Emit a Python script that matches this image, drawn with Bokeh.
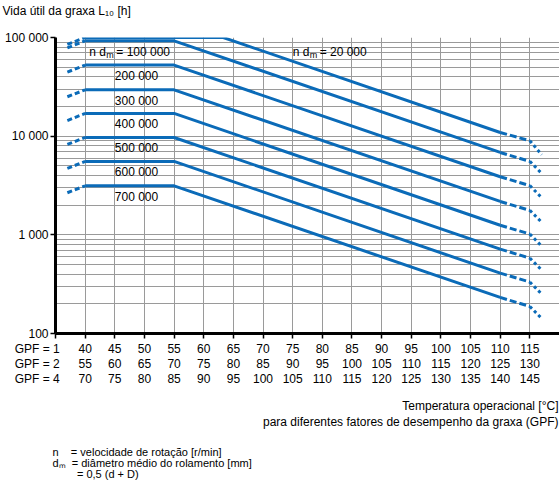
from bokeh.plotting import figure
from bokeh.models import FixedTicker, LinearAxis, Label, ColumnDataSource, Range1d, Title
from bokeh.embed import file_html
from bokeh.resources import INLINE

# ---------------- data ----------------
nd_labels = ["20 000", "100 000", "200 000", "300 000", "400 000", "500 000", "600 000", "700 000"]
knee_temp = [63.3, 55, 55, 55, 55, 55, 55, 55]          # end of the flat part [°C, GPF=1]
life_start = [85000, 78500, 44600, 25100, 14400, 8240, 4710, 2670]   # at 37 °C
life_flat = [100000, 92600, 52500, 29500, 17000, 9700, 5550, 3140]   # 40 °C .. knee
life_110 = [10900, 6840, 3880, 2180, 1250, 716, 409, 232]
life_115 = [8980, 5550, 3150, 1770, 1020, 581, 332, 188]
life_117 = [6490, 4190, 2380, 1340, 767, 439, 251, 142]
t_start, t_flat, t_solid_end, t_dash_end, t_dot_end = 37, 40, 110, 115, 117
label_temp = [75, 40.7, 45, 45, 45, 45, 45, 45]

gpf_rows = ["GPF = 1", "GPF = 2", "GPF = 4"]
gpf1 = [40, 45, 50, 55, 60, 65, 70, 75, 80, 85, 90, 95, 100, 105, 110, 115]
gpf2 = ["55", "60", "65", "70", "75", "80", "85", "90", "95", "100", "105", "110", "115", "120", "125", "130"]
gpf4 = ["70", "75", "80", "85", "90", "95", "100", "105", "110", "115", "120", "125", "130", "135", "140", "145"]
y_ticks = [100, 1000, 10000, 100000]
y_tick_labels = ["100", "1 000", "10 000", "100 000"]
y_minor = [m * d for d in (100, 1000, 10000) for m in range(2, 10)]

title_text = "Vida útil da graxa L₁₀ [h]"
x_title_1 = "Temperatura operacional [°C]"
x_title_2 = "para diferentes fatores de desempenho da graxa (GPF)"
NB = "\u00a0"
footnote_lines = ["n" + NB * 4 + "= velocidade de rotação [r/min]",
                  "dₘ" + NB * 2 + "= diâmetro médio do rolamento [mm]",
                  NB * 8 + "= 0,5 (d + D)"]

# ---------------- style ----------------
FONT = "Liberation Sans"
BLUE = "#0b6bb8"
GRID = "#9a9a9a"
W, H = 559, 483
FL, FT, FB = 55, 37, 333  # frame left / top / bottom (canvas px)
PAD = NB * 11             # pushes the row title left of the first tick

p = figure(width=W, height=H, x_range=Range1d(35, 120), y_range=Range1d(100, 100000),
           y_axis_type="log", output_backend="svg", toolbar_location=None,
           min_border_left=FL, min_border_top=FT, min_border_right=0,
           min_border_bottom=H - FB)
p.outline_line_color = None
p.background_fill_color = "white"
p.border_fill_color = "white"

# y axis
ya = p.yaxis[0]
ya.ticker = FixedTicker(ticks=y_ticks, minor_ticks=y_minor)
ya.major_label_overrides = dict(zip(y_ticks, y_tick_labels))
ya.axis_line_width = 3
ya.axis_line_color = "black"
ya.major_tick_out = 5
ya.major_tick_in = 0
ya.major_tick_line_width = 1.5
ya.minor_tick_line_color = None
ya.major_label_standoff = 2
ya.major_label_text_font = FONT
ya.major_label_text_font_size = "12px"
ya.major_label_text_color = "black"

# x axes (three rows of temperatures, one per GPF)
x_ticks = [35] + gpf1
row_labels = [[str(t) for t in gpf1], gpf2, gpf4]
xa = p.xaxis[0]
xa.ticker = FixedTicker(ticks=x_ticks, minor_ticks=[])
xa.major_label_overrides = dict(zip(x_ticks, [gpf_rows[0] + PAD] + row_labels[0]))
xa.axis_line_width = 3
xa.axis_line_color = "black"
xa.major_tick_out = 5
xa.major_tick_in = 0
xa.major_tick_line_width = 1.5
xa.major_label_standoff = 3
xa.major_label_text_font = FONT
xa.major_label_text_font_size = "12px"
xa.major_label_text_color = "black"
for k in (1, 2):
    ax = LinearAxis(ticker=FixedTicker(ticks=x_ticks, minor_ticks=[]),
                    major_label_overrides=dict(zip(x_ticks, [gpf_rows[k] + PAD] + row_labels[k])),
                    axis_line_color=None, major_tick_line_color=None,
                    major_tick_out=0, major_tick_in=0, minor_tick_out=0, minor_tick_in=0,
                    major_label_standoff=-2, major_label_text_font=FONT,
                    major_label_text_font_size="12px", major_label_text_color="black")
    p.add_layout(ax, "below")

p.xgrid.grid_line_color = GRID
p.ygrid.grid_line_color = GRID
p.ygrid.minor_grid_line_color = GRID


def title(text, where, align, offset, standoff, size="12px", lh=1.2):
    p.add_layout(Title(text=text, align=align, offset=offset, standoff=standoff,
                       text_font=FONT, text_font_size=size, text_font_style="normal",
                       text_color="black", text_line_height=lh), where)


# texts outside the frame
title(title_text + "\n", "above", "left", -53, 0, lh=1.4)
title(x_title_1, "below", "right", 1, 16)
title(x_title_2, "below", "right", 1, -16)
title("\n\n" + "\n".join(footnote_lines), "below", "left", -3, 0, size="11px", lh=0.95)

# ---------------- curves ----------------
n = len(nd_labels)
solid = ColumnDataSource(dict(
    xs=[[t_flat, knee_temp[i], t_solid_end] for i in range(n)],
    ys=[[life_flat[i], life_flat[i], life_110[i]] for i in range(n)]))
left = ColumnDataSource(dict(
    xs=[[t_start, t_flat] for i in range(n)],
    ys=[[life_start[i], life_flat[i]] for i in range(n)]))
dash = ColumnDataSource(dict(
    xs=[[t_solid_end, t_dash_end] for i in range(n)],
    ys=[[life_110[i], life_115[i]] for i in range(n)]))
dot = ColumnDataSource(dict(
    xs=[[t_dash_end, t_dot_end] for i in range(n)],
    ys=[[life_115[i], life_117[i]] for i in range(n)]))

p.multi_line("xs", "ys", source=solid, line_color=BLUE, line_width=3)
p.multi_line("xs", "ys", source=left, line_color=BLUE, line_width=3, line_dash="5 3")
p.multi_line("xs", "ys", source=dash, line_color=BLUE, line_width=3, line_dash="7 3")
p.multi_line("xs", "ys", source=dot, line_color=BLUE, line_width=3, line_dash="3 3")


def txt(text, x, y, size="12px", xo=0, yo=0):
    p.add_layout(Label(x=x, y=y, text=text, text_font=FONT, text_font_size=size,
                       text_align="left", text_baseline="middle", text_color="black",
                       x_offset=xo, y_offset=yo))


# curve labels (below each curve's flat part)
for i in range(n):
    yo = -14 if i == 0 else -11
    if i < 2:
        txt("n d", label_temp[i], life_flat[i], yo=yo)
        txt("m", label_temp[i], life_flat[i], size="9px", xo=17, yo=yo - 3)
        txt("= " + nd_labels[i], label_temp[i], life_flat[i], xo=27, yo=yo)
    else:
        txt(nd_labels[i], label_temp[i], life_flat[i], yo=yo)

open("out.html", "w").write(file_html(p, INLINE))
